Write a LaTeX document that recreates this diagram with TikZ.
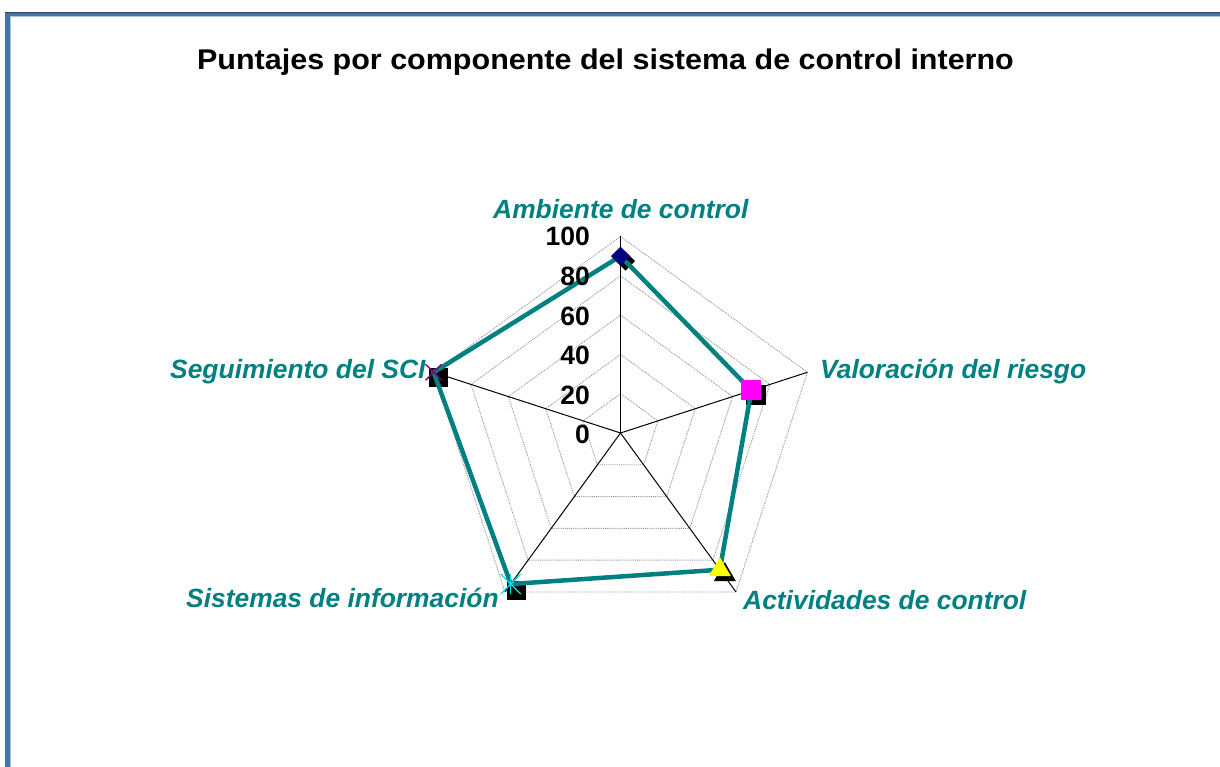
\documentclass[tikz,border=0pt]{standalone}
\usepackage{fontspec}
\usepackage{graphicx}
\setmainfont{Liberation Sans}
\usetikzlibrary{shapes.geometric}
\definecolor{tealc}{RGB}{0,128,128}
\definecolor{navym}{RGB}{0,0,128}
\definecolor{magm}{RGB}{255,0,255}
\definecolor{yelm}{RGB}{255,255,0}
\definecolor{cyanm}{RGB}{0,230,230}
\definecolor{purpm}{RGB}{128,0,128}
\definecolor{frameblue}{RGB}{70,115,160}
\definecolor{framedark}{RGB}{45,70,105}
\definecolor{framelight}{RGB}{170,195,225}
\tikzset{
  gridline/.style={gray!85, densely dotted, line width=0.9pt},
  spoke/.style={black, line width=1pt},
  dataline/.style={tealc, line width=4.5pt, line join=miter},
  axlabel/.style={text=tealc, font=\fontsize{26.4}{30}\selectfont\bfseries\itshape, inner sep=0pt, anchor=base west},
  numlabel/.style={font=\fontsize{26.5}{30}\selectfont\bfseries, inner sep=0pt, anchor=base east},
  shadowbox/.style={fill=black, draw=none, rectangle, minimum size=19pt, inner sep=0pt},
  xmark/.style={purpm, line width=1.3pt},
  starmark/.style={cyanm, line width=1.3pt},
}
\begin{document}
\begin{tikzpicture}[x=1pt,y=-1pt]
\useasboundingbox (0,0) rectangle (1220,767);
% frame
\fill[frameblue] (5,12) rectangle (1220,16.5);
\fill[frameblue] (5,12) rectangle (9.5,767);
\fill[framedark] (5,12) rectangle (1220,13.2);
\fill[framelight] (9.5,16.5) rectangle (1220,17.3);
\fill[framelight] (9.5,16.5) rectangle (10.3,767);
% title
\node[inner sep=0pt, anchor=base] (title) at (605.5,69.3) {\scalebox{1.07}[1]{\fontsize{28.5}{32}\selectfont\bfseries Puntajes por componente del sistema de control interno}};
\begin{scope}[shift={(620.5,433)}]
  \coordinate (C) at (0,0);
  % grid rings
  \foreach \r in {39.3,78.6,117.9,157.2,196.5}
    \draw[gridline] (-90:\r) -- (-18:\r) -- (54:\r) -- (126:\r) -- (198:\r) -- cycle;
  % outer vertices
  \coordinate (vA) at (-90:196.5);
  \coordinate (vV) at (-18:196.5);
  \coordinate (vAc) at (54:196.5);
  \coordinate (vS) at (126:196.5);
  \coordinate (vSe) at (198:196.5);
  \foreach \v in {vA,vV,vAc,vS,vSe} \draw[spoke] (C) -- (\v);
  % data points
  \coordinate (pA) at (-90:176.9);
  \coordinate (pV) at (-18:137.6);
  \coordinate (pAc) at (54:169.0);
  \coordinate (pS) at (126:186.7);
  \coordinate (pSe) at (198:196.5);
  % shadows
  \node[diamond, fill=black, minimum size=19pt, inner sep=0pt] (sA) at ([shift={(5,5)}]pA) {};
  \node[shadowbox, minimum size=20pt] (sV) at ([shift={(5,5)}]pV) {};
  \node[regular polygon, regular polygon sides=3, fill=black, minimum size=25.4pt, inner sep=0pt] (sAc) at ([shift={(5,5)}]pAc) {};
  \node[shadowbox] (sS) at ([shift={(5.5,6)}]pS) {};
  \node[shadowbox] (sSe) at ([shift={(5,5)}]pSe) {};
  % data line
  \draw[dataline] (pA) -- (pV) -- (pAc) -- (pS) -- (pSe) -- cycle;
  % markers
  \node[diamond, fill=navym, minimum size=19pt, inner sep=0pt] (mA) at (pA) {};
  \node[rectangle, fill=magm, minimum size=20pt, inner sep=0pt] (mV) at (pV) {};
  \node[regular polygon, regular polygon sides=3, fill=yelm, minimum size=25.4pt, inner sep=0pt] (mAc) at (pAc) {};
  \draw[starmark] ([shift={(-10,-10)}]pS) -- ([shift={(10,10)}]pS);
  \draw[starmark] ([shift={(-10,10)}]pS) -- ([shift={(10,-10)}]pS);
  \draw[starmark] ([shift={(0,-10)}]pS) -- ([shift={(0,10)}]pS);
  \draw[xmark] ([shift={(-8,-8)}]pSe) -- ([shift={(8,8)}]pSe);
  \draw[xmark] ([shift={(-8,8)}]pSe) -- ([shift={(8,-8)}]pSe);
\end{scope}
% axis numbers
\node[numlabel] (n100) at (590,246) {100};
\node[numlabel] (n80) at (590,285.5) {80};
\node[numlabel] (n60) at (590,325.5) {60};
\node[numlabel] (n40) at (590,364.5) {40};
\node[numlabel] (n20) at (590,404) {20};
\node[numlabel] (n0) at (590,443) {0};
% category labels
\node[axlabel] (lA) at (493,219) {Ambiente de control};
\node[axlabel] (lV) at (820,378.3) {Valoración del riesgo};
\node[axlabel] (lAc) at (743,609) {Actividades de control};
\node[axlabel] (lS) at (186,607) {Sistemas de información};
\node[axlabel] (lSe) at (170,378) {Seguimiento del SCI};
\end{tikzpicture}
\end{document}
